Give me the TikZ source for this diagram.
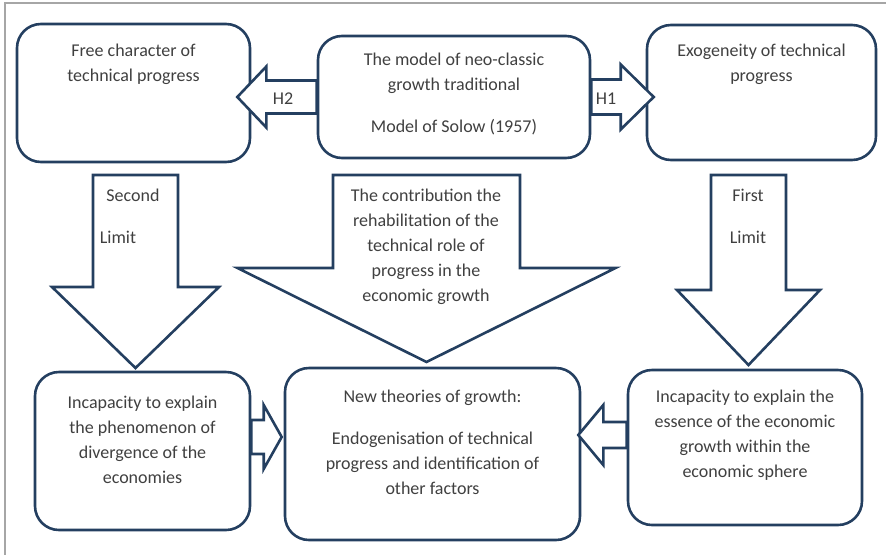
\documentclass[tikz,border=0pt]{standalone}
\usepackage{fontspec}
\setmainfont{Carlito}
\usetikzlibrary{calc,positioning}

\definecolor{boxblue}{HTML}{243F60}
\definecolor{textgray}{HTML}{404040}
\definecolor{framegray}{HTML}{A6A6A6}

\tikzset{
  box/.style={draw=boxblue, line width=2.6pt, rounded corners=24pt, fill=white, inner sep=0pt},
  txt/.style={font=\fontsize{18}{25}\selectfont, text=textgray, align=center, inner sep=0pt, anchor=north},
  lbl/.style={font=\fontsize{18}{25}\selectfont, text=textgray, inner sep=0pt},
  blockarrow/.style={draw=boxblue, line width=2.6pt, fill=white, line join=miter},
}

% fat arrow: start, tip, shaft half width, head half width, head length
\newcommand{\fatarrow}[5]{%
  \path ($(#2)!#5!(#1)$) coordinate (hb);
  \draw[blockarrow] ($(#1)!#3!90:(#2)$) -- ($(hb)!#3!-90:(#1)$) -- ($(hb)!#4!-90:(#1)$)
    -- (#2) -- ($(hb)!#4!90:(#1)$) -- ($(hb)!#3!90:(#1)$) -- ($(#1)!#3!-90:(#2)$) -- cycle;
}

\begin{document}
\begin{tikzpicture}[x=1pt, y=-1pt]
    \useasboundingbox (0,0) rectangle (886,555);
    \draw[framegray, line width=1.2pt] (886,3) -- (5,3) -- (5,555);

    % boxes
    \node[box, minimum width=233pt, minimum height=138pt] (tl) at (133.5,93) {};
    \node[box, minimum width=272pt, minimum height=122pt] (tc) at (454,97) {};
    \node[box, minimum width=229pt, minimum height=135pt] (tr) at (761.5,92.5) {};
    \node[box, minimum width=215pt, minimum height=158pt] (bl) at (142.5,451) {};
    \node[box, minimum width=295pt, minimum height=172pt] (bc) at (432.5,454) {};
    \node[box, minimum width=234pt, minimum height=155pt] (br) at (745,447.5) {};

    \node[txt, below=16.5pt of tl.north] (tltext) {\strut Free character of\\technical progress};
    \node[txt, below=13.5pt of tc.north] (tctext) {\strut The model of neo-classic\\growth traditional\\[17pt]Model of Solow (1957)};
    \node[txt, below=15.5pt of tr.north] (trtext) {\strut Exogeneity of technical\\progress};
    \node[txt, below=20.5pt of bl.north] (bltext) {\strut Incapacity to explain\\the phenomenon of\\divergence of the\\economies};
    \node[txt, below=18.5pt of bc.north] (bctext) {\strut New theories of growth:\\[17pt]Endogenisation of technical\\progress and identification of\\other factors};
    \node[txt, below=16.5pt of br.north] (brtext) {\strut Incapacity to explain the\\essence of the economic\\growth within the\\economic sphere};

    % free ends of the arrows
    \coordinate (h2tip) at ([xshift=-14pt]tl.east |- tc.west);
    \coordinate (h1tip) at ([xshift=8pt]tr.west |- tc.east);
    \coordinate (lstart) at ([yshift=14pt]bl.east);
    \coordinate (ltip) at ([xshift=-2pt]bc.west |- lstart);
    \coordinate (rstart) at ([yshift=12.5pt]br.west);
    \coordinate (rtip) at ([xshift=-3pt]bc.east |- rstart);
    \coordinate (secstart) at (135.5,175);
    \coordinate (sectip) at (135.5,368);
    \coordinate (midstart) at (426.5,175);
    \coordinate (midtip) at (426.5,362);
    \coordinate (firststart) at (748.5,175);
    \coordinate (firsttip) at (748.5,365);

    % arrows
    \fatarrow{tc.west}{h2tip}{16.5pt}{30.5pt}{29pt}
    \fatarrow{tc.east}{h1tip}{17.5pt}{32.5pt}{33pt}
    \fatarrow{lstart}{ltip}{17pt}{32pt}{18pt}
    \fatarrow{rstart}{rtip}{13pt}{30pt}{25pt}
    \fatarrow{secstart}{sectip}{42.5pt}{83.5pt}{81pt}
    \fatarrow{midstart}{midtip}{93.5pt}{189pt}{94pt}
    \fatarrow{firststart}{firsttip}{37.5pt}{71.5pt}{75pt}

    % arrow texts
    \node[lbl] (h2) at (283,99) {H2};
    \node[lbl] (h1) at (606,99) {H1};
    \node[txt] (second) at (133,183.5) {\strut Second};
    \node[txt] (seclimit) at (118,225.5) {\strut Limit};
    \node[txt] (contrib) at (426,183.5) {\strut The contribution the\\rehabilitation of the\\technical role of\\progress in the\\economic growth};
    \node[txt] (first) at (748,183.5) {\strut First};
    \node[txt] (firstlimit) at (748,225.5) {\strut Limit};
\end{tikzpicture}
\end{document}
